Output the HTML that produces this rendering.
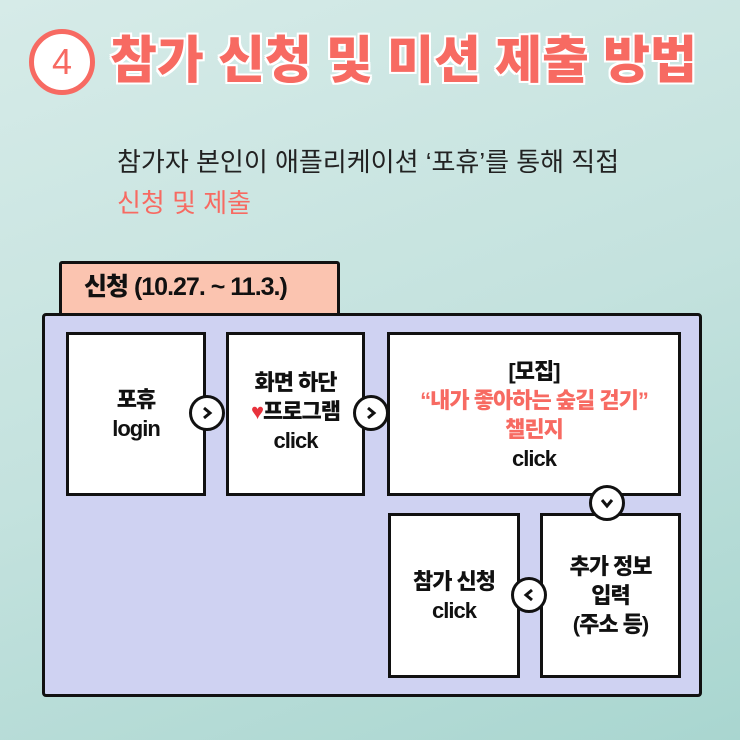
<!DOCTYPE html>
<html><head><meta charset="utf-8"><style>
body{margin:0;width:740px;height:740px;overflow:hidden;position:relative;
background:linear-gradient(160deg,#d6ebe8 0%,#c4e2de 50%,#a9d6d0 100%);
font-family:"Liberation Sans","Noto Sans CJK KR",sans-serif;}
.a{position:absolute;}
.box{position:absolute;background:#fff;border:3px solid #111;box-sizing:border-box;display:flex;flex-direction:column;align-items:center;justify-content:center;text-align:center;font-weight:900;font-size:22px;line-height:29px;color:#111;letter-spacing:-1px}
.c{position:absolute;width:36px;height:36px;border-radius:50%;background:#fff;border:3px solid #111;box-sizing:border-box;display:flex;align-items:center;justify-content:center}
</style></head><body>
<div class="a" style="left:29px;top:29px;width:66px;height:66px;border-radius:50%;border:5px solid #f76a62;box-sizing:border-box;background:#fff;color:#f76a62;font-size:36px;display:flex;align-items:center;justify-content:center">4</div>
<div class="a" style="left:110px;top:30px;font-size:51px;font-weight:900;color:#f76a62;letter-spacing:0px;text-shadow:2px 0 #fff,-2px 0 #fff,0 2px #fff,0 -2px #fff,2px 2px #fff,-2px -2px #fff,2px -2px #fff,-2px 2px #fff;line-height:62px;white-space:nowrap">참가 신청 및 미션 제출 방법</div>
<div class="a" style="left:117px;top:142px;font-size:26px;color:#222;white-space:nowrap;letter-spacing:0px">참가자 본인이 애플리케이션 ‘포휴’를 통해 직접</div>
<div class="a" style="left:117px;top:183px;font-size:26px;color:#f76a62;white-space:nowrap;letter-spacing:0px">신청 및 제출</div>
<div class="a" style="left:59px;top:261px;width:281px;height:55px;background:#fbc4b0;border:3px solid #111;border-radius:3px;box-sizing:border-box;font-weight:900;font-size:25px;line-height:46px;padding-left:22px;color:#111;letter-spacing:-1px">신청 (10.27. ~ 11.3.)</div>
<div class="a" style="left:42px;top:313px;width:660px;height:384px;background:#cfd2f2;border:3px solid #111;border-radius:4px;box-sizing:border-box"></div>
<div class="box" style="left:66px;top:332px;width:140px;height:164px"><div>포휴</div><div>login</div></div>
<div class="box" style="left:226px;top:332px;width:139px;height:164px;padding-bottom:6px"><div>화면 하단</div><div><span style="color:#e8323c">♥</span>프로그램</div><div>click</div></div>
<div class="box" style="left:387px;top:332px;width:294px;height:164px;padding-top:2px"><div>[모집]</div><div style="color:#f76a62">“내가 좋아하는 숲길 걷기”</div><div style="color:#f76a62">챌린지</div><div>click</div></div>
<div class="box" style="left:388px;top:513px;width:132px;height:165px"><div>참가 신청</div><div>click</div></div>
<div class="box" style="left:540px;top:513px;width:141px;height:165px"><div>추가 정보</div><div>입력</div><div>(주소 등)</div></div>
<div class="c" style="left:189px;top:395px"><svg width="14" height="14"><path d="M4 2 L10 7 L4 12" fill="none" stroke="#111" stroke-width="3"/></svg></div>
<div class="c" style="left:353px;top:395px"><svg width="14" height="14"><path d="M4 2 L10 7 L4 12" fill="none" stroke="#111" stroke-width="3"/></svg></div>
<div class="c" style="left:589px;top:485px"><svg width="14" height="14"><path d="M2 4 L7 10 L12 4" fill="none" stroke="#111" stroke-width="3"/></svg></div>
<div class="c" style="left:511px;top:577px"><svg width="14" height="14"><path d="M10 2 L4 7 L10 12" fill="none" stroke="#111" stroke-width="3"/></svg></div>
</body></html>
